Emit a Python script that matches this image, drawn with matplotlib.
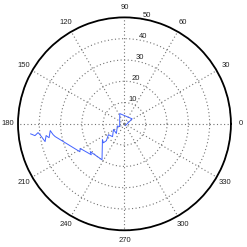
import matplotlib.pyplot as plt
import numpy as np

plt.rcParams['font.family'] = ['Liberation Sans', 'DejaVu Sans']

# path of the trace, angle in degrees and radius
theta_deg = [300, 33, 114.5, 210, 197, 230, 207, 227, 214, 223, 222, 215.5,
             238, 219, 223, 209, 212, 190.4, 188.6, 185.2, 190.4, 188.5,
             192.6, 187.3, 185.8, 187.5, 186.1]
radius = [0.9, 4.3, 5.3, 2.6, 3.5, 5.9, 5.8, 8.2, 9.1, 11.6, 13.3, 12.7,
          19.9, 20.7, 21.3, 23.8, 24.7, 33.1, 33.9, 35.0, 36.0, 37.2,
          38.2, 40.0, 40.8, 42.4, 44.3]

angle_ticks = list(range(0, 360, 30))
r_ticks = [10, 20, 30, 40, 50]

fig = plt.figure(figsize=(2.47, 2.47), dpi=100)
ax = fig.add_axes([0.0729, 0.0676, 0.862, 0.862], projection='polar')

ax.plot(np.deg2rad(theta_deg), radius, color='#4262ff', linewidth=0.7)

ax.set_ylim(0, 50)
ax.set_xticks(np.deg2rad(angle_ticks))
ax.set_xticklabels([str(a) for a in angle_ticks], fontsize=5.5, color='#222222')
ax.tick_params(axis='x', pad=-3.2)
ax.set_yticks(r_ticks)
ax.set_yticklabels([])
for r in r_ticks:
    ax.text(np.deg2rad(80), r, str(r), ha='left', va='bottom',
            fontsize=5.5, color='#222222')

ax.grid(True, color='0.45', linestyle=(0, (1, 2.2)), linewidth=0.8)
ax.spines['polar'].set_linewidth(1.3)
ax.spines['polar'].set_color('black')

fig.savefig('out.png', dpi=100)
